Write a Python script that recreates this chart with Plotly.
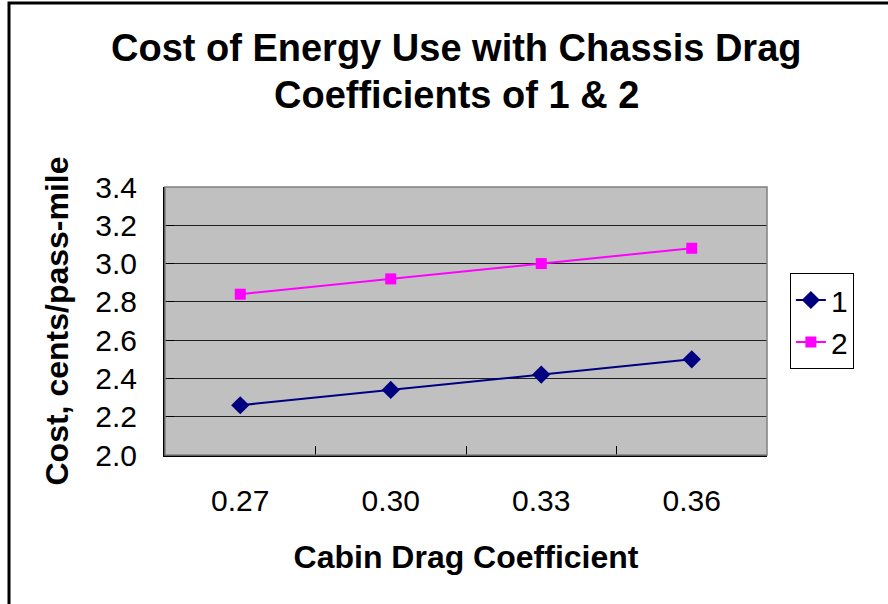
import plotly.graph_objects as go

categories = ["0.27", "0.30", "0.33", "0.36"]
series1 = [2.26, 2.34, 2.42, 2.50]
series2 = [2.84, 2.92, 3.00, 3.08]
series_names = ["1", "2"]
y_ticks = [2.0, 2.2, 2.4, 2.6, 2.8, 3.0, 3.2, 3.4]
title_lines = ["Cost of Energy Use with Chassis Drag", "Coefficients of 1 & 2"]

FONT = "Liberation Sans, Arial, sans-serif"

fig = go.Figure()
fig.add_trace(go.Scatter(
    x=categories, y=series1, name=series_names[0], mode="lines+markers",
    line=dict(color="#000080", width=2),
    marker=dict(symbol="diamond", size=14, color="#000080"),
))
fig.add_trace(go.Scatter(
    x=categories, y=series2, name=series_names[1], mode="lines+markers",
    line=dict(color="#FF00FF", width=2),
    marker=dict(symbol="square", size=11, color="#FF00FF"),
))

fig.update_layout(
    width=888, height=604,
    margin=dict(l=165, r=121, t=187, b=149),
    paper_bgcolor="white",
    plot_bgcolor="#C0C0C0",
    font=dict(family=FONT, color="black", size=30),
    showlegend=True,
    legend=dict(
        x=1.038, xanchor="left", y=0.5, yanchor="middle",
        bgcolor="white", bordercolor="black", borderwidth=1,
        font=dict(family=FONT, size=30, color="black"),
        tracegroupgap=4,
    ),
    xaxis=dict(
        type="category", range=[-0.5, 3.5],
        showgrid=False, showline=True, linecolor="black", linewidth=2,
        ticks="inside", tickson="boundaries", ticklen=9, tickcolor="black", tickwidth=1,
        ticklabelstandoff=18,
        tickfont=dict(family=FONT, size=30, color="black"),
        title=dict(text="<b>Cabin Drag Coefficient</b>", font=dict(family=FONT, size=32, color="black"), standoff=30),
        zeroline=False,
    ),
    yaxis=dict(
        range=[2.0, 3.4], tickvals=y_ticks, tickformat=".1f",
        showgrid=True, gridcolor="#202020", gridwidth=1,
        showline=True, linecolor="black", linewidth=2,
        ticks="inside", ticklen=9, tickcolor="black",
        ticklabelstandoff=20,
        tickfont=dict(family=FONT, size=30, color="black"),
        title=dict(text="<b>Cost, cents/pass-mile</b>", font=dict(family=FONT, size=32, color="black"), standoff=17),
        zeroline=False,
    ),
    annotations=[
        dict(text="<b>" + title_lines[0] + "</b>", xref="paper", yref="paper",
             x=0.485, y=(455 - 48.5) / 268, xanchor="center", yanchor="middle",
             showarrow=False, font=dict(family=FONT, size=38, color="black")),
        dict(text="<b>" + title_lines[1] + "</b>", xref="paper", yref="paper",
             x=0.485, y=(455 - 95) / 268, xanchor="center", yanchor="middle",
             showarrow=False, font=dict(family=FONT, size=38, color="black")),
    ],
    shapes=[
        dict(type="rect", xref="paper", yref="paper", x0=0, x1=1, y0=0, y1=1,
             line=dict(color="#808080", width=1.5), layer="above"),
        dict(type="rect", xref="paper", yref="paper",
             x0=(9 - 165) / 602, x1=(900 - 165) / 602,
             y0=(455 - 620) / 268, y1=(455 - 3) / 268,
             line=dict(color="black", width=3)),
    ],
)

fig.write_html("out.html")
